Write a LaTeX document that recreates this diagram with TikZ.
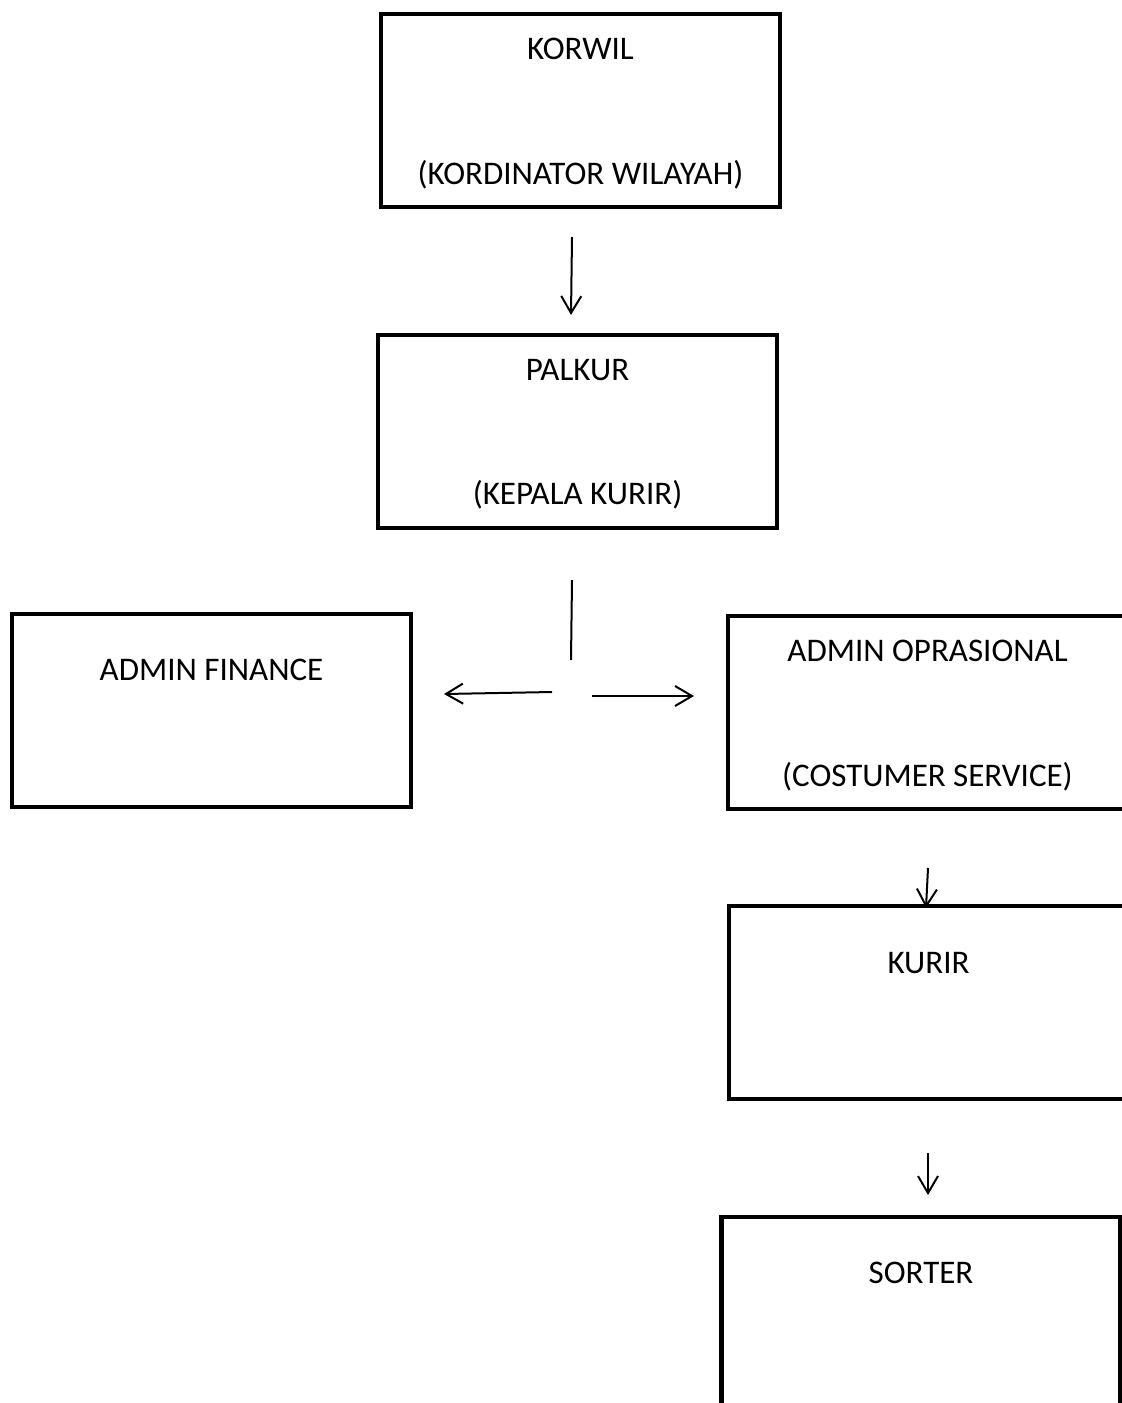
\documentclass[tikz,border=0pt]{standalone}
\usepackage{fontspec}
\setmainfont{Carlito}
\usepackage{tikz}
\usetikzlibrary{positioning,arrows.meta}

\begin{document}
\begin{tikzpicture}[x=0.5pt,y=-0.5pt,>={Straight Barb[length=8.5pt,width=10pt]},line width=1pt]
  \tikzstyle{unit}=[rectangle,draw,line width=2.4pt,minimum width=199.5pt,minimum height=96.5pt,inner sep=0pt,outer sep=0pt]
  \tikzstyle{lbl}=[inner sep=0pt,text height=10.6pt,text depth=0pt,font=\fontsize{16.5}{20}\selectfont]

  \clip (0,0) rectangle (1122,1403);

  
  \node[unit] (korwil) at (580.5,110.5) {};
  \node[unit] (palkur) at (577.5,431.5) {};
  \node[unit] (finance) at (211.5,710.5) {};
  \node[unit] (oprasional) at (927.5,712.5) {};
  \node[unit] (kurir) at (928.5,1002.5) {};
  \node[unit] (sorter) at (921,1313.5) {};

  
  \node[lbl,yshift=-17.5pt] (korwilT) at (korwil.north) {KORWIL};
  \node[lbl,yshift=16.5pt] (korwilS) at (korwil.south) {(KORDINATOR WILAYAH)};
  \node[lbl,yshift=-17.5pt] (palkurT) at (palkur.north) {PALKUR};
  \node[lbl,yshift=17pt] (palkurS) at (palkur.south) {(KEPALA KURIR)};
  \node[lbl,yshift=-28pt] (financeT) at (finance.north) {ADMIN FINANCE};
  \node[lbl,yshift=-17.5pt] (oprasionalT) at (oprasional.north) {ADMIN OPRASIONAL};
  \node[lbl,yshift=16.5pt] (oprasionalS) at (oprasional.south) {(COSTUMER SERVICE)};
  \node[lbl,yshift=-28.5pt] (kurirT) at (kurir.north) {KURIR};
  \node[lbl,yshift=-28pt] (sorterT) at (sorter.north) {SORTER};

  
  \coordinate (k1) at (572,237);
  \coordinate (k2) at (571,315);
  \coordinate (p1) at (572,580);
  \coordinate (p2) at (571,660);
  \coordinate (f1) at (552,692);
  \coordinate (f2) at (444,694);
  \coordinate (o1) at (592,696);
  \coordinate (o2) at (694,696);
  \coordinate (c1) at (928,868);
  \coordinate (c2) at (926,908);
  \coordinate (s1) at (928,1153);
  \coordinate (s2) at (928,1195);

  \draw[->] (k1) -- (k2);
  \draw (p1) -- (p2);
  \draw[->] (f1) -- (f2);
  \draw[->] (o1) -- (o2);
  \draw[->] (c1) -- (c2);
  \draw[->] (s1) -- (s2);
\end{tikzpicture}
\end{document}
